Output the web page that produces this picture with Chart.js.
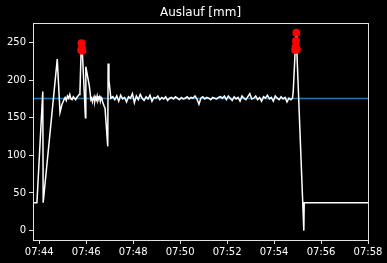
<!DOCTYPE html>
<html>
<head>
<meta charset="utf-8">
<script src="https://cdn.jsdelivr.net/npm/chart.js@4/dist/chart.umd.min.js"></script>
<style>
  html, body { margin: 0; padding: 0; background: #000; }
  #wrap { width: 387px; height: 263px; }
</style>
</head>
<body>
<div id="wrap"><canvas id="auslaufChart" width="387" height="263"></canvas></div>
<script>
// Zeit in Sekunden nach 07:43:00
const zeiten = [
  44, 54, 69, 70, 106, 113, 118,
  120, 123, 126, 129, 132, 135, 138, 141, 144, 147, 150, 153, 156, 159, 162,
  164, 167, 168, 169, 170, 178, 179, 188, 192,
  194, 196, 198, 200, 202, 204, 206, 208, 210, 212, 214, 216, 218, 220, 222, 224, 226, 228,
  235, 236, 238, 243,
  248, 253, 258, 263, 268, 273, 278, 283, 288, 293, 298, 303, 308, 313, 318, 323, 328, 333, 338, 343,
  348, 353, 358, 363, 368, 373, 378, 383, 388, 393, 398, 403, 408, 413, 418, 423, 428, 433, 438, 443,
  448, 453, 458, 463, 468, 473, 478, 483, 488, 493, 498, 503, 508, 513, 518, 523, 528, 533, 538, 543,
  548, 553, 558, 563, 568, 573, 578, 583, 588, 593, 598, 603, 608, 613, 618, 623, 628, 633, 638, 643,
  648, 653, 658, 663, 668, 673, 678, 683, 688, 693, 698, 703,
  707, 709, 714, 715, 716, 717, 718, 736, 737, 900
];
const auslauf = [
  37, 37, 185, 37, 228, 157, 168,
  170, 174, 177, 173, 179, 176, 181, 175, 174, 178, 176, 174, 177, 179, 181,
  185, 240, 249, 242, 239, 150, 218, 192, 174,
  176, 171, 175, 178, 172, 177, 174, 179, 173, 176, 178, 172, 177, 175, 171, 168, 165, 163,
  112, 222, 200, 176,
  178, 174, 179, 172, 180, 175, 177, 171, 178, 176, 182, 170, 179, 174, 181, 176, 173, 178, 175, 180,
  172, 177, 176, 179, 174, 177, 175, 178, 173, 176, 177, 175, 178, 176, 174, 177, 175, 176, 178, 175,
  177, 176, 179, 175, 168, 176, 178, 175, 177, 176, 174, 177, 176, 175, 177, 178, 176, 179, 174, 179,
  176, 173, 178, 175, 177, 172, 179, 176, 174, 178, 182, 175, 176, 179, 174, 177, 172, 178, 176, 180,
  175, 177, 172, 179, 176, 174, 178, 175, 177, 171, 176, 174,
  176, 185, 240, 244, 252, 263, 241, 0, 37, 37
];
const sollwert = 175.5;
const grenzwert = 238;
const xTicks = [60, 180, 300, 420, 540, 660, 780, 900];
const yTicks = [0, 50, 100, 150, 200, 250];

const punkte = zeiten.map((t, i) => ({ x: t, y: auslauf[i] }));

function zeitLabel(s) {
  const m = 43 + Math.round(s / 60);
  return '07:' + String(m).padStart(2, '0');
}

const hintergrund = {
  id: 'hintergrund',
  beforeDraw(chart) {
    const c = chart.ctx;
    c.save();
    c.fillStyle = '#000';
    c.fillRect(0, 0, chart.width, chart.height);
    c.restore();
  },
  afterDraw(chart) {
    const c = chart.ctx;
    const a = chart.chartArea;
    c.save();
    c.strokeStyle = '#e0e0e0';
    c.lineWidth = 1;
    c.strokeRect(a.left + 0.5, a.top + 0.5, a.right - a.left, a.bottom - a.top);
    c.fillStyle = '#ffffff';
    c.font = '12px "DejaVu Sans"';
    c.textAlign = 'center';
    c.textBaseline = 'middle';
    c.fillText('Auslauf [mm]', (a.left + a.right) / 2, 13);
    c.restore();
  }
};

var ctx = document.getElementById('auslaufChart').getContext('2d');
var myChart = new Chart(ctx, {
  type: 'line',
  data: {
    datasets: [{
      label: 'Soll',
      data: [{ x: 44, y: sollwert }, { x: 900, y: sollwert }],
      borderColor: '#1f77b4',
      borderWidth: 1.5,
      pointRadius: 0,
      order: 2
    }, {
      label: 'Auslauf',
      data: punkte,
      borderColor: '#ffffff',
      borderWidth: 1.5,
      pointRadius: c => (c.raw && c.raw.y > grenzwert ? 4 : 0),
      pointBackgroundColor: '#ff0000',
      pointBorderColor: '#ff0000',
      pointBorderWidth: 0,
      tension: 0,
      order: 1
    }]
  },
  options: {
    responsive: false,
    animation: false,
    layout: { padding: { top: 23, right: 19, left: 0, bottom: 0 } },
    plugins: {
      legend: { display: false },
      title: { display: false },
      tooltip: { enabled: false }
    },
    scales: {
      x: {
        type: 'linear',
        min: 44,
        max: 900,
        afterBuildTicks: axis => { axis.ticks = xTicks.map(v => ({ value: v })); },
        afterFit: axis => { axis.height = 23; },
        grid: { drawOnChartArea: false, drawTicks: true, tickLength: 4, color: '#e0e0e0' },
        border: { display: true, color: '#e0e0e0' },
        ticks: {
          color: '#ffffff',
          font: { family: 'DejaVu Sans', size: 10 },
          padding: 2,
          maxRotation: 0,
          autoSkip: false,
          callback: v => zeitLabel(v)
        }
      },
      y: {
        min: -12.5,
        max: 276,
        afterBuildTicks: axis => { axis.ticks = yTicks.map(v => ({ value: v })); },
        afterFit: axis => { axis.width = 33; },
        grid: { drawOnChartArea: false, drawTicks: true, tickLength: 4, color: '#e0e0e0' },
        border: { display: true, color: '#e0e0e0' },
        ticks: {
          color: '#ffffff',
          font: { family: 'DejaVu Sans', size: 10 },
          padding: 3,
          autoSkip: false
        }
      }
    }
  },
  plugins: [hintergrund]
});
</script>
</body>
</html>
